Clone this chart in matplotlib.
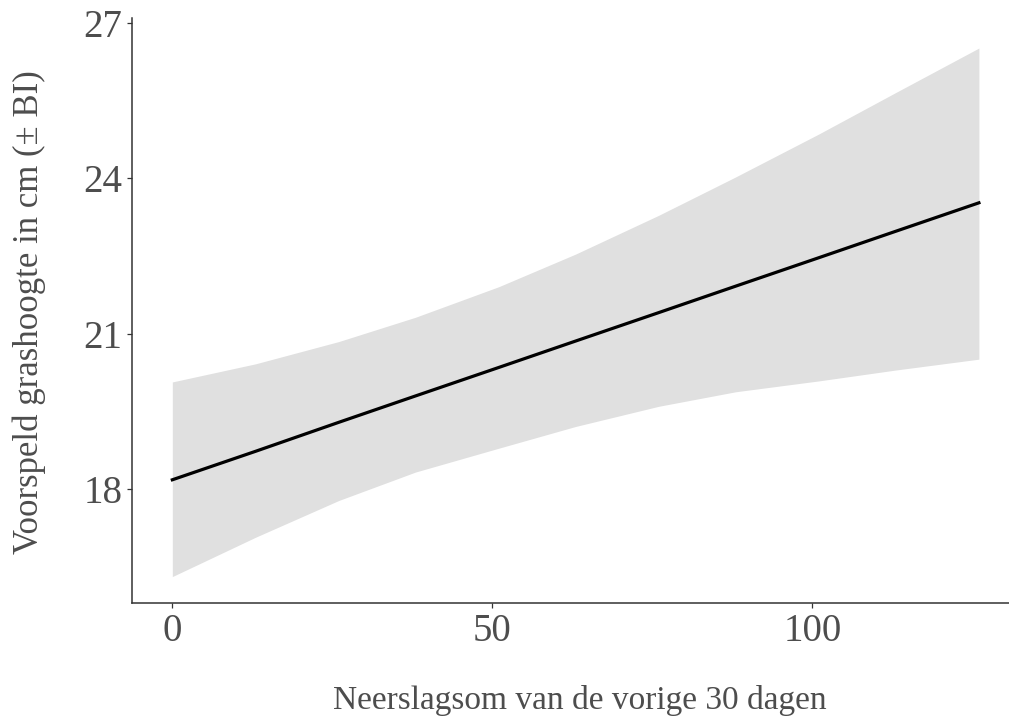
import matplotlib
matplotlib.use("Agg")
import matplotlib.pyplot as plt

# neerslagsom (mm) en voorspelde grashoogte met betrouwbaarheidsinterval
neerslag = [0, 13, 26, 38, 51, 63, 76, 88, 101, 113, 126]
voorspeld = [18.18, 18.73, 19.29, 19.80, 20.35, 20.86, 21.41, 21.92, 22.47, 22.98, 23.53]
bi_boven = [20.07, 20.42, 20.85, 21.32, 21.91, 22.54, 23.29, 24.03, 24.86, 25.66, 26.52]
bi_onder = [16.31, 17.07, 17.78, 18.33, 18.79, 19.21, 19.60, 19.88, 20.09, 20.30, 20.51]

x_ticks = [0, 50, 100]
y_ticks = [18, 21, 24, 27]

FONT = "Liberation Serif"
TXT = "#4d4d4d"

fig = plt.figure(figsize=(10.09, 7.19), dpi=100)
ax = fig.add_axes([132 / 1009, 1 - 603 / 719, 1 - 132 / 1009, (603 - 18) / 719])

ax.fill_between(neerslag, bi_onder, bi_boven, color="#e0e0e0", linewidth=0)
ax.plot(neerslag, voorspeld, color="black", linewidth=2.3)

ax.set_xlim(-6.3, 130.7)
ax.set_ylim(15.8, 27.1)
ax.set_xticks(x_ticks)
ax.set_yticks(y_ticks)

for side in ["top", "right"]:
    ax.spines[side].set_visible(False)
for side in ["left", "bottom"]:
    ax.spines[side].set_color("#333333")
    ax.spines[side].set_linewidth(1.1)

ax.tick_params(axis="both", length=3.6, width=0.9, color="#333333",
               labelsize=28, labelcolor=TXT, pad=3.5)
for lab in ax.get_xticklabels() + ax.get_yticklabels():
    lab.set_fontfamily(FONT)

fig.text(580 / 1009, 1 - 700 / 719, "Neerslagsom van de vorige 30 dagen",
         ha="center", va="center", fontsize=24, color=TXT, family=FONT)
fig.text(29 / 1009, 1 - 312 / 719, "Voorspeld grashoogte in cm (± BI)",
         ha="center", va="center", rotation=90, fontsize=25, color=TXT, family=FONT)

fig.savefig("out.png", dpi=100)
